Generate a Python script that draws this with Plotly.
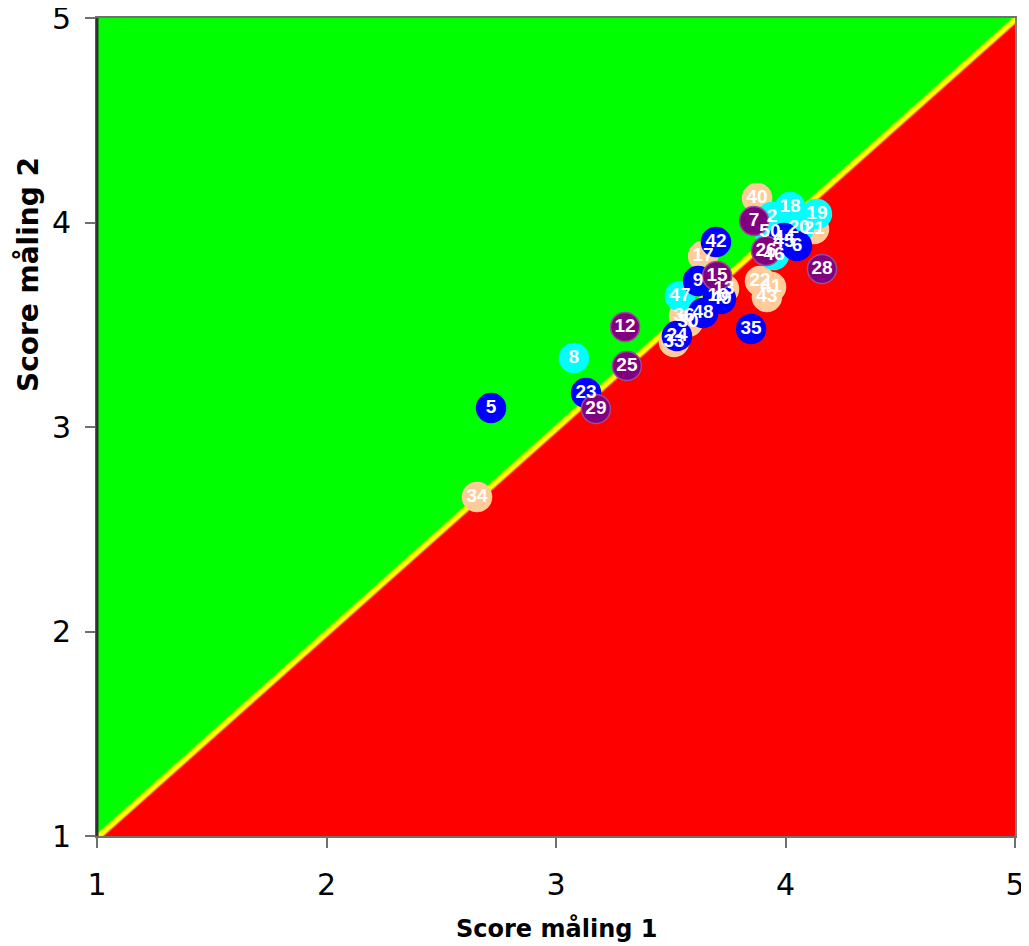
import plotly.graph_objects as go

# ---- data ----
peach_labels = ["34", "40", "21", "22", "41", "43", "17", "13", "36", "30", "33"]
peach_x = [2.656, 3.876, 4.124, 3.889, 3.937, 3.919, 3.641, 3.732, 3.558, 3.575, 3.514]
peach_y = [2.658, 4.120, 3.968, 3.714, 3.685, 3.636, 3.836, 3.675, 3.543, 3.513, 3.416]

cyan_labels = ["8", "18", "19", "20", "2", "50", "45", "46", "47"]
cyan_x = [3.078, 4.020, 4.137, 4.059, 3.941, 3.932, 3.993, 3.950, 3.540]
cyan_y = [3.337, 4.076, 4.042, 3.973, 4.027, 3.954, 3.905, 3.841, 3.641]

blue_labels = ["5", "23", "35", "44", "6", "42", "9", "10", "49", "48", "24"]
blue_x = [2.717, 3.131, 3.850, 3.993, 4.050, 3.697, 3.619, 3.706, 3.719, 3.641, 3.527]
blue_y = [3.093, 3.166, 3.479, 3.924, 3.885, 3.905, 3.714, 3.641, 3.626, 3.557, 3.445]

purple_labels = ["12", "25", "29", "28", "7", "26", "15"]
purple_x = [3.301, 3.309, 3.174, 4.159, 3.863, 3.915, 3.702]
purple_y = [3.489, 3.298, 3.088, 3.773, 4.007, 3.861, 3.738]

x_ticks = [1, 2, 3, 4, 5]
y_ticks = [1, 2, 3, 4, 5]

# ---- styles ----
C_PEACH = "#ffcc99"
C_CYAN = "#00ffff"
C_BLUE = "#0000ff"
C_PURPLE = "#800080"

groups = [
    (peach_labels, peach_x, peach_y, C_PEACH, C_PEACH),
    (cyan_labels, cyan_x, cyan_y, C_CYAN, C_CYAN),
    (blue_labels, blue_x, blue_y, C_BLUE, C_BLUE),
    (purple_labels, purple_x, purple_y, C_PURPLE, "#9b4b9b"),
]

all_x, all_y, all_t, all_c, all_lc = [], [], [], [], []
for labs, xs, ys, col, lcol in groups:
    all_x += xs
    all_y += ys
    all_t += labs
    all_c += [col] * len(xs)
    all_lc += [lcol] * len(xs)

fig = go.Figure()

# background: green above diagonal, red below, yellow on the diagonal (z = y - x)
bg_axis = [0, 6]
bg_z = [[yy - xx for xx in bg_axis] for yy in bg_axis]
fig.add_trace(go.Heatmap(
    x=bg_axis, y=bg_axis, z=bg_z,
    zmin=-0.035, zmax=0.035, zsmooth="best",
    colorscale=[[0, "#ff0000"], [0.12, "#ff0000"], [0.34, "#ffff00"],
                [0.66, "#ffff00"], [0.88, "#00ff00"], [1, "#00ff00"]],
    showscale=False, hoverinfo="skip",
))

fig.add_trace(go.Scatter(
    x=all_x, y=all_y, text=all_t, mode="markers+text",
    marker=dict(size=29, color=all_c, line=dict(color=all_lc, width=1.5), opacity=1),
    textposition="middle center",
    textfont=dict(family="Liberation Sans, Arial, sans-serif", size=19, color="white", weight="bold"),
    showlegend=False, hoverinfo="skip",
))

tickfont = dict(family="DejaVu Sans, Verdana, sans-serif", size=30, color="black")
fig.update_xaxes(
    range=[1, 5], tickvals=x_ticks, ticktext=[str(v) for v in x_ticks],
    showgrid=False, zeroline=False, showline=True, linecolor="#707070", linewidth=2,
    mirror=True, ticks="outside", ticklen=10, tickwidth=1.5, tickcolor="#707070",
    tickfont=tickfont, ticklabelstandoff=11, automargin=False,
    ticklabeloverflow="allow",
)
fig.update_yaxes(
    range=[1, 5], tickvals=y_ticks, ticktext=[str(v) for v in y_ticks],
    showgrid=False, zeroline=False, showline=True, linecolor="#808080", linewidth=2,
    mirror=True, ticks="outside", ticklen=10, tickwidth=1.5, tickcolor="#707070",
    tickfont=tickfont, ticklabelstandoff=8, automargin=False,
    ticklabeloverflow="allow",
)

# darker left axis line
fig.add_shape(type="line", xref="paper", yref="paper", x0=0, x1=0, y0=0, y1=1,
              line=dict(color="#303030", width=3))

fig.add_annotation(text="Score måling 1", xref="paper", yref="paper", x=0.5, y=-0.1125,
                   showarrow=False, xanchor="center", yanchor="middle",
                   font=dict(family="DejaVu Sans, Verdana, sans-serif", size=24, color="black", weight="bold"))
fig.add_annotation(text="Score måling 2", xref="paper", yref="paper", x=-0.0752, y=0.687,
                   showarrow=False, textangle=-90, xanchor="center", yanchor="middle",
                   font=dict(family="DejaVu Sans, Verdana, sans-serif", size=28, color="black", weight="bold"))

# the page body adds an 8px margin, so the figure is sized/offset to compensate
fig.update_layout(
    width=1021, height=938,
    margin=dict(l=89, r=14, t=10, b=110, autoexpand=False),
    paper_bgcolor="white", plot_bgcolor="white",
)

fig.write_html("out.html")
